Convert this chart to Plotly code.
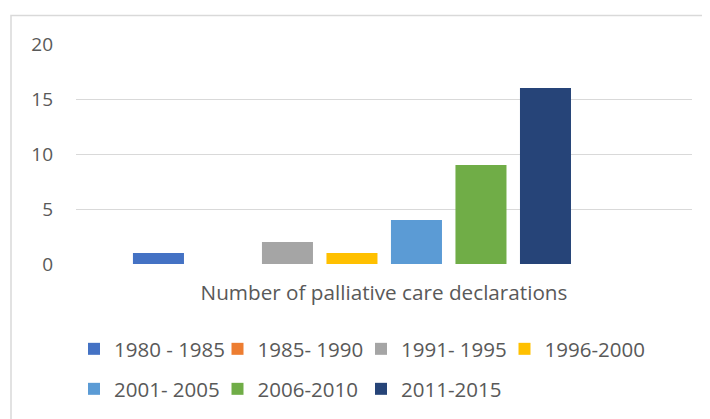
import plotly.graph_objects as go

category = ["Number of palliative care declarations"]
series_names = ["1980 - 1985", "1985- 1990", "1991- 1995", "1996-2000",
                "2001- 2005", "2006-2010", "2011-2015"]
series_values = [1, 0, 2, 1, 4, 9, 16]
series_colors = ["#4472C4", "#ED7D31", "#A5A5A5", "#FFC000",
                 "#5B9BD5", "#70AD47", "#264478"]

FONT = "Open Sans"
TXT = "#595959"

fig = go.Figure()
for i, (name, val, col) in enumerate(zip(series_names, series_values, series_colors)):
    fig.add_trace(go.Bar(
        x=category, y=[val], name=name, marker_color=col,
        marker_line_width=0,
        legend="legend" if i < 4 else "legend2",
    ))

# page body has an 8px margin: work in screen pixels, convert to figure pixels
OFF = 8
W, H = 710 - OFF, 419 - OFF
sx0, sx1, sy_top, sy_bot = 76, 692, 44, 264   # plot area in screen pixels
L, R = sx0 - OFF, W - (sx1 - OFF)
T, B = sy_top - OFF, H - (sy_bot - OFF)
pw, ph = W - L - R, H - T - B

def px_x(p):  # screen px -> paper x
    return (p - OFF - L) / pw

def px_y(p):  # screen px -> paper y
    return (H - B - (p - OFF)) / ph

leg_common = dict(orientation="h", xanchor="left", yanchor="middle",
                  entrywidth=98.5, entrywidthmode="pixels",
                  font=dict(family=FONT, size=20.5, color=TXT),
                  bgcolor="rgba(0,0,0,0)", itemclick=False, borderwidth=0)

fig.update_layout(
    width=W, height=H,
    margin=dict(l=L, r=R, t=T, b=B, autoexpand=False),
    paper_bgcolor="white", plot_bgcolor="white",
    barmode="group", bargap=0.267, bargroupgap=0.209,
    font=dict(family=FONT, size=19, color=TXT),
    xaxis=dict(
        type="category", range=[-0.448, 0.552], showticklabels=False,
        showgrid=False, zeroline=False, showline=False, ticks="",
        title=dict(text=category[0], standoff=21, font=dict(family=FONT, size=20.7, color=TXT)),
    ),
    yaxis=dict(
        range=[0, 20], dtick=5, showgrid=True, gridcolor="#D9D9D9", gridwidth=1.3,
        zeroline=False, showline=False, ticks="", ticklabelstandoff=22,
        tickfont=dict(family=FONT, size=19, color=TXT),
    ),
    legend=dict(x=px_x(74), y=px_y(349), **leg_common),
    legend2=dict(x=px_x(74), y=px_y(389), **leg_common),
    shapes=[dict(type="rect", xref="paper", yref="paper",
                 x0=px_x(11), x1=px_x(740), y0=px_y(450), y1=px_y(15.5),
                 line=dict(color="#D9D9D9", width=1.5), fillcolor="rgba(0,0,0,0)", layer="below")],
    showlegend=True,
)

fig.write_html("out.html")
